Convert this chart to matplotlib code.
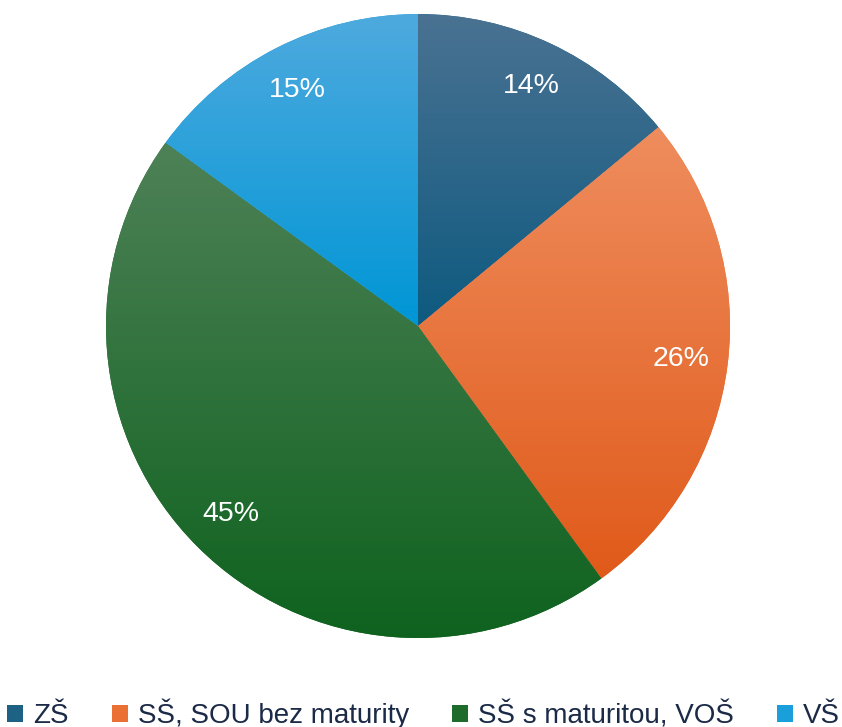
import numpy as np
import matplotlib
matplotlib.use("Agg")
import matplotlib.pyplot as plt
from matplotlib.colors import to_rgb

# Data
categories = ["ZŠ", "SŠ, SOU bez maturity", "SŠ s maturitou, VOŠ", "VŠ"]
shares = [14, 26, 45, 15]

# gradient fills: (top colour, bottom colour) per slice
grad_colors = [("#4a7292", "#0e5a80"),
               ("#ef8d5e", "#e05a1a"),
               ("#4e8157", "#0e621e"),
               ("#4eaade", "#0096d6")]
mid_colors = ["#1d6285", "#ea7034", "#1f6b2c", "#1a9fda"]

plt.rcParams['font.family'] = ['Liberation Sans', 'DejaVu Sans']

fig = plt.figure(figsize=(8.42, 7.27), dpi=100)
ax = fig.add_axes([0.1259, 0.1224, 0.7411, 0.8583])

wedges, texts, autotexts = ax.pie(
    shares, colors=mid_colors, startangle=90, counterclock=False,
    radius=1.0, autopct='%1.0f%%', pctdistance=0.85,
    wedgeprops=dict(linewidth=0),
    textprops=dict(color='white', fontsize=20.5))

# vertical gradient inside every wedge
for w, (c_top, c_bot) in zip(wedges, grad_colors):
    verts = w.get_path().vertices
    x0, x1 = verts[:, 0].min(), verts[:, 0].max()
    y0, y1 = verts[:, 1].min(), verts[:, 1].max()
    t = np.linspace(0, 1, 256)[:, None]
    top = np.array(to_rgb(c_top))
    bot = np.array(to_rgb(c_bot))
    img = (top * (1 - t) + bot * t)[:, None, :]
    im = ax.imshow(img, extent=(x0, x1, y0, y1), origin='upper',
                   aspect='auto', interpolation='bilinear', zorder=1.5)
    im.set_clip_path(w)

for t in autotexts:
    t.set_zorder(3)

ax.set_xlim(-1.0, 1.0)
ax.set_ylim(-1.0, 1.0)
ax.set_aspect('equal')
ax.axis('off')

fig.legend(wedges, categories, loc='center', bbox_to_anchor=(0.503, 0.018),
           ncol=4, frameon=False, fontsize=20, labelcolor='#1b2a47',
           handlelength=0.58, handleheight=0.58, handletextpad=0.36,
           columnspacing=1.55, borderpad=0.0)

fig.savefig("out.png", dpi=100)
